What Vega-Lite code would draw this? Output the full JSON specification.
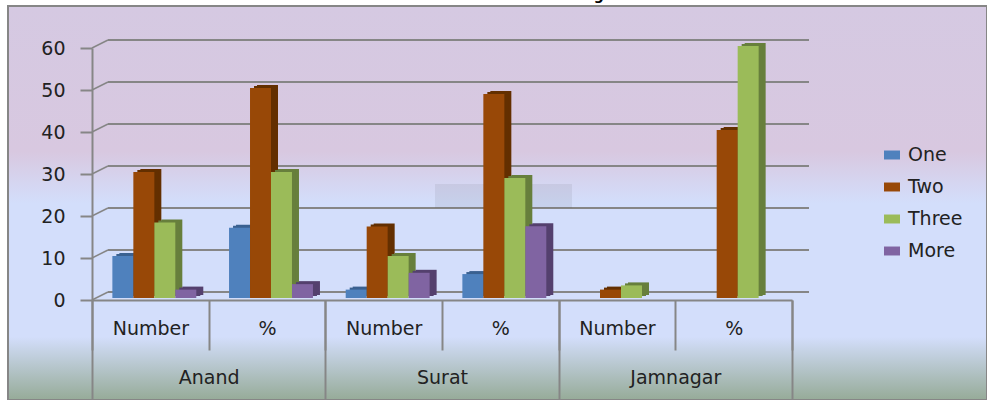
{
"$schema":"https://vega.github.io/schema/vega-lite/v6.json",
"width":979,"height":394,
"autosize":{"type":"none"},
"padding":{"left":8,"top":6,"right":0,"bottom":0},
"background":"#ffffff",
"title":{"text":"Number of Mothers and Number of Registered Mothers","font":"DejaVu Sans","fontSize":14,"fontWeight":"bold","color":"#000000","anchor":"start","offset":0,"dx":285,"dy":11,"baseline":"bottom"},
"view":{"stroke":"#868686","strokeWidth":2,"fill":{"gradient":"linear","x1":0,"y1":0,"x2":0,"y2":1,"stops":[{"offset":0,"color":"#d5c9e2"},{"offset":0.37,"color":"#d8c8e0"},{"offset":0.5,"color":"#d3defb"},{"offset":0.84,"color":"#d3defb"},{"offset":1,"color":"#96ab98"}]}},
"config":{"font":"DejaVu Sans","axis":{"labelFont":"DejaVu Sans","labelColor":"#222222","labelFontSize":19,"title":null}},
"datasets":{
"bars":[
{"cat":"Anand|Number","series":"One","v":10},{"cat":"Anand|Number","series":"Two","v":30},{"cat":"Anand|Number","series":"Three","v":18},{"cat":"Anand|Number","series":"More","v":2},
{"cat":"Anand|%","series":"One","v":16.7},{"cat":"Anand|%","series":"Two","v":50},{"cat":"Anand|%","series":"Three","v":30},{"cat":"Anand|%","series":"More","v":3.3},
{"cat":"Surat|Number","series":"One","v":2},{"cat":"Surat|Number","series":"Two","v":17},{"cat":"Surat|Number","series":"Three","v":10},{"cat":"Surat|Number","series":"More","v":6},
{"cat":"Surat|%","series":"One","v":5.7},{"cat":"Surat|%","series":"Two","v":48.6},{"cat":"Surat|%","series":"Three","v":28.6},{"cat":"Surat|%","series":"More","v":17.1},
{"cat":"Jamnagar|Number","series":"Two","v":2},{"cat":"Jamnagar|Number","series":"Three","v":3},
{"cat":"Jamnagar|%","series":"Two","v":40},{"cat":"Jamnagar|%","series":"Three","v":60}],
"ticks":[{"v":0,"a":0,"b":1},{"v":10,"a":0,"b":1},{"v":20,"a":0,"b":1},{"v":30,"a":0,"b":1},{"v":40,"a":0,"b":1},{"v":50,"a":0,"b":1},{"v":60,"a":0,"b":1}],
"smudge":[{"a":0,"b":1,"top":27.6,"bottom":21.9}],
"cats":[{"cat":"Anand|Number","state":"Anand"},{"cat":"Anand|%","state":"Anand"},{"cat":"Surat|Number","state":"Surat"},{"cat":"Surat|%","state":"Surat"},{"cat":"Jamnagar|Number","state":"Jamnagar"},{"cat":"Jamnagar|%","state":"Jamnagar"}]
},
"layer":[
{"data":{"name":"ticks"},"mark":{"type":"rule","color":"#868686","strokeWidth":2},
 "encoding":{"x":{"field":"a","type":"quantitative","scale":{"domain":[0,1],"range":[100,801]},"axis":null},"x2":{"field":"b"},
 "y":{"field":"v","type":"quantitative","scale":{"domain":[0,60],"range":[286,34],"nice":false},"axis":null}}},
{"data":{"name":"smudge"},"mark":{"type":"rect","color":"#555566","opacity":0.1},
 "encoding":{"x":{"field":"a","type":"quantitative","scale":{"domain":[0,1],"range":[427,564]},"axis":null},"x2":{"field":"b"},
 "y":{"field":"top","type":"quantitative","scale":{"domain":[0,60],"range":[294,42],"nice":false},"axis":null},"y2":{"field":"bottom"}}},
{"data":{"name":"ticks"},"mark":{"type":"rule","color":"#868686","strokeWidth":1.5,"y2Offset":-8},
 "encoding":{"x":{"field":"a","type":"quantitative","scale":{"domain":[0,1],"range":[84,100]},"axis":null},"x2":{"field":"b"},
 "y":{"field":"v","type":"quantitative","scale":{"domain":[0,60],"range":[294,42],"nice":false},
  "axis":{"orient":"left","offset":-84,"values":[0,10,20,30,40,50,60],"tickSize":12,"tickWidth":2,"tickColor":"#868686","domainColor":"#868686","domainWidth":2,"labelPadding":15,"grid":false}},"y2":{"field":"v"}}},
{"data":{"name":"bars"},"mark":{"type":"bar"},
 "encoding":{"x":{"field":"cat","type":"nominal","sort":["Anand|Number","Anand|%","Surat|Number","Surat|%","Jamnagar|Number","Jamnagar|%"],"scale":{"range":[95,795],"paddingInner":0,"paddingOuter":0},"axis":null},
 "xOffset":{"field":"series","sort":["One","Two","Three","More"],"scale":{"paddingInner":0,"paddingOuter":0.78}},
 "y":{"field":"v","type":"quantitative","scale":{"domain":[0,60],"range":[289,37],"nice":false},"axis":null},
 "color":{"field":"series","sort":["One","Two","Three","More"],"scale":{"domain":["One","Two","Three","More"],"range":["#3a6190","#632f00","#677f3c","#54406e"]},"legend":null}}},
{"data":{"name":"bars"},"mark":{"type":"bar"},
 "encoding":{"x":{"field":"cat","type":"nominal","sort":["Anand|Number","Anand|%","Surat|Number","Surat|%","Jamnagar|Number","Jamnagar|%"],"scale":{"range":[92,792],"paddingInner":0,"paddingOuter":0},"axis":null},
 "xOffset":{"field":"series","sort":["One","Two","Three","More"],"scale":{"paddingInner":0,"paddingOuter":0.78}},
 "y":{"field":"v","type":"quantitative","scale":{"domain":[0,60],"range":[290,38],"nice":false},"axis":null},
 "color":{"field":"series","sort":["One","Two","Three","More"],"scale":{"domain":["One","Two","Three","More"],"range":["#3a6190","#632f00","#677f3c","#54406e"]},"legend":null}}},
{"data":{"name":"bars"},"mark":{"type":"bar"},
 "encoding":{"x":{"field":"cat","type":"nominal","sort":["Anand|Number","Anand|%","Surat|Number","Surat|%","Jamnagar|Number","Jamnagar|%"],"scale":{"range":[88,788],"paddingInner":0,"paddingOuter":0},"axis":null},
 "xOffset":{"field":"series","sort":["One","Two","Three","More"],"scale":{"paddingInner":0,"paddingOuter":0.78}},
 "y":{"field":"v","type":"quantitative","scale":{"domain":[0,60],"range":[292,40],"nice":false},"axis":null},
 "color":{"field":"series","sort":["One","Two","Three","More"],"scale":{"domain":["One","Two","Three","More"],"range":["#4f81bd","#984807","#9bbb59","#8064a2"]},
  "legend":{"orient":"none","legendX":868,"legendY":133,"title":null,"symbolType":"M-0.5,-0.28H0.5V0.28H-0.5Z","symbolSize":1024,"symbolStrokeWidth":0,"labelFontSize":19,"labelFont":"DejaVu Sans","labelColor":"#222222","rowPadding":6,"labelOffset":0,"padding":0}}}},
{"data":{"name":"cats"},"mark":{"type":"bar","opacity":0},
 "encoding":{"x":{"field":"cat","type":"nominal","sort":null,"scale":{"range":[84,784],"paddingInner":0,"paddingOuter":0},
  "axis":{"orient":"bottom","offset":-100,"labelExpr":"split(datum.label,'|')[1]","labelAngle":0,"tickSize":50,"tickBand":"extent","tickWidth":2,"tickColor":"#868686","domainColor":"#868686","domainWidth":2,"labelPadding":-31,"grid":false}},
 "y":{"value":0},"y2":{"value":0}}},
{"data":{"name":"cats"},"mark":{"type":"bar","opacity":0},
 "encoding":{"x":{"field":"state","type":"nominal","sort":null,"scale":{"range":[84,784],"paddingInner":0,"paddingOuter":0},
  "axis":{"orient":"bottom","offset":-100,"labelAngle":0,"tickSize":100,"tickBand":"extent","tickWidth":2,"tickColor":"#868686","domain":false,"labelPadding":-32,"grid":false}},
 "y":{"value":0},"y2":{"value":0}}}
],
"resolve":{"scale":{"x":"independent","y":"independent","color":"independent","xOffset":"independent"},"axis":{"x":"independent","y":"independent"},"legend":{"color":"independent"}}
}
